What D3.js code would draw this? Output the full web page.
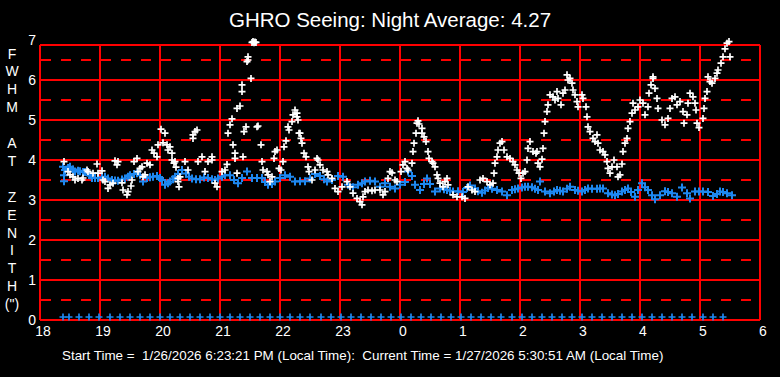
<!DOCTYPE html>
<html><head><meta charset="utf-8">
<script src="https://cdn.jsdelivr.net/npm/d3@7"></script>
<style>
html,body{margin:0;padding:0;background:#000;}
svg{display:block;font-family:"Liberation Sans",Arial,sans-serif;}
</style></head><body>
<script>
// time values are minutes after 18:00 (local), FWHM in arcsec
const titleText = "GHRO Seeing: Night Average: 4.27";
const footerText = "Start Time =  1/26/2026 6:23:21 PM (Local Time):  Current Time = 1/27/2026 5:30:51 AM (Local Time)";
const yTitleLetters = ["F","W","H","M","","A","T","","Z","E","N","I","T","H","(\")"];
const xTickValues = [0,60,120,180,240,300,360,420,480,540,600,660,720];
const xTickLabels = ["18","19","20","21","22","23","0","1","2","3","4","5","6"];
const yTickValues = [0,1,2,3,4,5,6,7];
const yDashValues = [0.5,1.5,2.5,3.5,4.5,5.5,6.5];

// zenith-corrected series (blue): [minutes after 18:00, FWHM]
const zenith = [[23,3.83],[24,3.47],[24,3.62],[25,3.75],[28,3.80],[30,3.83],[33,3.76],[35,3.71],[38,3.73],[40,3.72],[43,3.70],[45,3.70],[48,3.68],[50,3.62],[52,3.55],
[55,3.55],[58,3.55],[62,3.57],[65,3.58],[68,3.54],[72,3.50],[75,3.49],[78,3.48],[82,3.51],[85,3.54],[88,3.58],[90,3.62],[94,3.65],[97,3.67],[100,3.62],[103,3.46],[107,3.55],
[110,3.57],[113,3.58],[117,3.60],[120,3.55],[122,3.50],[125,3.38],[128,3.42],[130,3.46],[133,3.52],[135,3.58],[138,3.65],[142,3.75],[146,3.66],[149,3.58],[152,3.54],[156,3.52],[160,3.52],[164,3.56],[168,3.55],
[172,3.52],[175,3.50],[178,3.54],[182,3.58],[185,3.62],[190,3.62],[194,3.50],[198,3.42],[202,3.55],[207,3.71],[212,3.55],[217,3.55],[222,3.55],[225,3.45],[228,3.38],[232,3.40],[235,3.46],[240,3.55],[245,3.62],
[250,3.58],[255,3.46],[260,3.47],[265,3.47],[270,3.54],[275,3.65],[280,3.60],[284,3.52],[287,3.46],[292,3.50],[298,3.60],
[303,3.58],[308,3.38],[313,3.32],[318,3.38],[322,3.42],[325,3.46],[330,3.48],[335,3.46],[340,3.33],[345,3.42],[350,3.33],[355,3.29],
[360,3.38],[365,3.45],[368,3.71],[372,3.60],[375,3.38],[380,3.25],[384,3.40],[387,3.54],[390,3.40],[395,3.21],[400,3.29],
[404,3.27],[407,3.25],[410,3.23],[413,3.21],[418,3.22],[423,3.20],[427,3.30],[430,3.36],[435,3.29],[438,3.22],[442,3.18],[445,3.24],[448,3.30],[452,3.28],[457,3.25],[462,3.21],[467,3.12],
[472,3.25],[475,3.27],[478,3.29],[482,3.31],[485,3.33],[488,3.33],[492,3.32],[495,3.28],[498,3.25],[500,3.46],[505,3.21],[510,3.17],[514,3.21],[517,3.25],[520,3.23],[523,3.21],
[527,3.28],[530,3.33],[535,3.25],[538,3.23],[542,3.21],[545,3.25],[548,3.29],[552,3.28],[557,3.28],[560,3.29],[563,3.29],[568,3.17],[572,3.14],[575,3.12],[578,3.15],[582,3.21],[585,3.25],[588,3.29],
[591,3.20],[595,3.08],[598,3.25],[602,3.42],[605,3.32],[608,3.25],[612,3.12],[615,3.02],[620,3.12],[625,3.22],[628,3.20],[632,3.17],[637,3.08],[642,3.31],[647,3.17],
[650,3.04],[655,3.21],[659,3.21],[663,3.21],[668,3.20],[673,3.10],[677,3.15],[680,3.21],[683,3.20],[687,3.17],[692,3.12]];

// measured seeing series (white): [minutes after 18:00, FWHM]
const seeing = [[24,3.96],[28,3.71],[30,3.63],[33,3.58],[35,3.50],[38,3.54],[42,3.50],[43,3.55],[47,3.75],[48,3.71],
[53,3.67],[57,3.90],[58,3.67],[62,3.73],[63,3.50],[65,3.46],[68,3.29],[70,3.38],[73,3.42],[75,3.98],
[77,3.88],[78,3.96],[82,3.43],[83,3.25],[87,3.13],[88,3.21],[91,3.35],[92,3.50],[94,3.96],[97,4.04],
[98,3.71],[100,3.79],[102,3.83],[103,3.58],[105,3.63],[107,3.92],[110,3.88],[112,4.25],[114,4.17],[117,4.08],
[118,4.38],[121,4.77],[123,4.43],[125,4.67],[127,4.38],[128,4.25],[130,4.33],[132,4.17],[132,4.00],[134,3.92],
[136,3.82],[138,3.54],[139,3.33],[135,3.96],[138,3.46],[140,3.58],[145,3.96],[148,3.75],[153,4.63],[155,4.71],
[157,4.75],[153,4.54],[158,3.96],[162,4.08],[165,3.71],[168,3.96],[172,4.00],[172,4.08],[175,3.42],[177,3.33],
[182,3.71],[185,3.75],[187,3.89],[188,4.67],[190,4.88],[192,5.03],[193,4.38],[195,4.17],[195,4.04],[197,3.67],
[197,5.29],[200,5.35],[202,5.71],[202,5.88],[203,4.08],[204,4.71],[206,4.83],[207,6.46],[208,6.58],[208,6.50],
[211,6.04],[212,6.94],[213,6.96],[214,6.93],[215,6.95],[216,6.94],[217,4.83],[218,4.85],[221,4.38],[222,3.96],
[223,3.75],[227,3.71],[228,3.63],[232,3.58],[230,3.46],[234,4.04],[235,4.21],[237,4.25],[239,3.79],[241,3.75],
[243,3.96],[244,4.33],[246,4.48],[248,4.83],[249,4.75],[252,4.96],[253,5.13],[255,5.25],[257,5.08],[258,5.00],
[260,4.67],[257,5.17],[259,4.67],[261,4.54],[262,4.42],[264,4.17],[266,4.08],[268,3.83],[269,3.71],[272,3.50],
[275,3.75],[277,4.04],[278,4.00],[280,3.88],[283,3.75],[287,3.71],[288,3.63],[292,3.54],[295,3.29],[298,3.21],
[302,3.33],[307,3.46],[310,3.33],[313,3.17],[317,3.04],[320,2.96],[322,2.88],[323,3.08],[325,3.21],[328,3.25],
[332,3.23],[335,3.25],[340,3.25],[343,3.13],[345,3.21],[348,3.54],[350,3.71],[352,3.68],[355,3.50],[357,3.46],
[361,3.71],[363,3.88],[365,3.96],[367,3.79],[368,3.75],[372,3.92],[373,4.21],[374,4.42],[376,4.67],[377,4.92],
[378,4.98],[379,4.90],[382,4.79],[382,4.67],[384,4.58],[386,4.46],[388,4.21],[389,4.04],[392,3.96],[393,3.92],
[395,3.83],[397,3.63],[398,3.54],[400,3.42],[403,3.33],[405,3.46],[407,3.54],[408,3.38],[413,3.13],[417,3.08],
[422,3.08],[425,3.04],[428,3.33],[432,3.25],[435,3.21],[440,3.50],[443,3.54],[447,3.46],[450,3.38],[453,3.42],
[454,3.67],[455,3.92],[457,4.08],[458,4.25],[460,4.42],[462,4.46],[464,4.25],[467,4.08],[470,4.04],[473,3.96],
[475,3.88],[477,3.75],[479,3.67],[481,3.54],[483,3.67],[485,3.71],[487,4.00],[488,4.29],[490,4.46],[493,4.21],
[496,4.17],[498,3.92],[497,4.21],[500,3.83],[502,4.02],[503,4.29],[504,4.67],[505,4.96],[507,5.21],[508,5.38],
[510,5.63],[513,5.58],[515,5.50],[517,5.71],[518,5.54],[521,5.38],[523,5.67],[525,5.75],[527,6.13],[528,6.00],
[530,6.04],[532,5.92],[533,5.75],[535,5.63],[537,5.46],[538,5.33],[542,5.63],[543,5.54],[546,5.33],[547,5.08],
[548,4.83],[550,4.71],[553,4.54],[555,4.46],[557,4.63],[558,4.42],[560,4.25],[563,4.21],[565,4.13],[567,3.96],
[568,3.79],[570,3.67],[572,3.83],[574,4.00],[577,3.83],[578,3.58],[580,3.63],[582,3.90],[583,4.21],[585,4.42],
[587,4.54],[588,4.79],[590,4.96],[592,5.17],[593,5.42],[595,5.25],[598,5.33],[600,5.50],[603,5.42],[605,5.13],
[608,5.33],[609,5.67],[611,5.88],[613,6.04],[613,6.08],[615,5.79],[617,5.54],[618,5.29],[622,5.00],[625,4.88],
[628,5.04],[630,5.29],[632,5.54],[635,5.58],[637,5.38],[640,5.46],[643,5.21],[644,4.92],[647,5.13],[648,5.42],
[650,5.67],[653,5.58],[655,5.42],[656,5.25],[657,4.92],[659,4.81],[663,5.04],[664,5.29],[665,5.54],[667,5.71],
[668,6.08],[670,5.96],[672,5.92],[675,6.04],[677,6.17],[678,6.25],[681,6.42],[683,6.58],[685,6.78],[687,6.92],
[689,6.96],[690,6.58]];

// 10-minute sample stamps drawn along the zero line
const stampT = [23,29,39,49,59,70,80,90,100,110,120,130,140,150,160,170,180,190,200,210,220,230,240,250,260,270,281,291,301,311,321,331,341,351,361,371,381,391,401,411,421,431,441,451,461,472,482,492,502,512,522,532,542,552,562,572,582,592,602,612,622,632,642,652,663,673,683];

const W = 780, H = 377;
const svg = d3.select("body").append("svg").attr("width", W).attr("height", H);
svg.append("rect").attr("width", W).attr("height", H).attr("fill", "#000");

const x = d3.scaleLinear().domain([0, 720]).range([40, 760]);
const y = d3.scaleLinear().domain([0, 7]).range([320, 40]);
const plotTop = 45;

const red = "#ff0000";
const g = svg.append("g").attr("shape-rendering", "crispEdges");
g.selectAll("line.dash").data(yDashValues).join("line")
  .attr("x1", 41).attr("x2", 760).attr("y1", d => y(d)).attr("y2", d => y(d))
  .attr("stroke", red).attr("stroke-width", 2).attr("stroke-dasharray", "10,10");
g.selectAll("line.h").data(yTickValues.filter(d => d < 7)).join("line")
  .attr("x1", 40).attr("x2", 760).attr("y1", d => y(d)).attr("y2", d => y(d))
  .attr("stroke", red).attr("stroke-width", 2);
g.append("line").attr("x1", 40).attr("x2", 760).attr("y1", plotTop).attr("y2", plotTop)
  .attr("stroke", red).attr("stroke-width", 2);
g.selectAll("line.v").data(xTickValues).join("line")
  .attr("x1", d => x(d)).attr("x2", d => x(d)).attr("y1", plotTop).attr("y2", y(0))
  .attr("stroke", red).attr("stroke-width", 2);

const plus = "M-3.5,0H3.5M0,-3.5V3.5";
const plusB = "M-4,0H4M0,-4V4";
const blue = "#1e88f0";
svg.append("g").selectAll("path").data(zenith).join("path")
  .attr("d", plusB).attr("transform", d => `translate(${x(d[0])},${y(d[1])})`)
  .attr("stroke", blue).attr("stroke-width", 2).attr("fill", "none");
svg.append("g").selectAll("path").data(seeing).join("path")
  .attr("d", plus).attr("transform", d => `translate(${x(d[0])},${y(d[1])})`)
  .attr("stroke", "#fff").attr("stroke-width", 1.7).attr("fill", "none");
svg.append("g").selectAll("path").data(stampT).join("path")
  .attr("d", plus).attr("transform", d => `translate(${x(d)},${y(0) - 3})`)
  .attr("stroke", blue).attr("stroke-width", 1.7).attr("fill", "none");

svg.append("g").selectAll("text").data(xTickValues).join("text")
  .attr("x", d => x(d) + 3).attr("y", 336).attr("text-anchor", "middle")
  .attr("fill", "#fff").attr("font-size", 14).text((d, i) => xTickLabels[i]);
svg.append("g").selectAll("text").data(yTickValues).join("text")
  .attr("x", 36).attr("y", d => y(d) + 5).attr("text-anchor", "end")
  .attr("fill", "#fff").attr("font-size", 14).text(d => d);

svg.append("g").selectAll("text").data(yTitleLetters).join("text")
  .attr("x", 12).attr("y", (d, i) => 58.5 + i * 17.9).attr("text-anchor", "middle")
  .attr("fill", "#fff").attr("font-size", 14).text(d => d);

svg.append("text").attr("x", 390).attr("y", 27).attr("text-anchor", "middle")
  .attr("fill", "#fff").attr("font-size", 20.5).text(titleText);
svg.append("text").attr("x", 62).attr("y", 360).attr("fill", "#fff")
  .attr("font-size", 13.4).style("white-space", "pre").text(footerText);
</script>
</body></html>
